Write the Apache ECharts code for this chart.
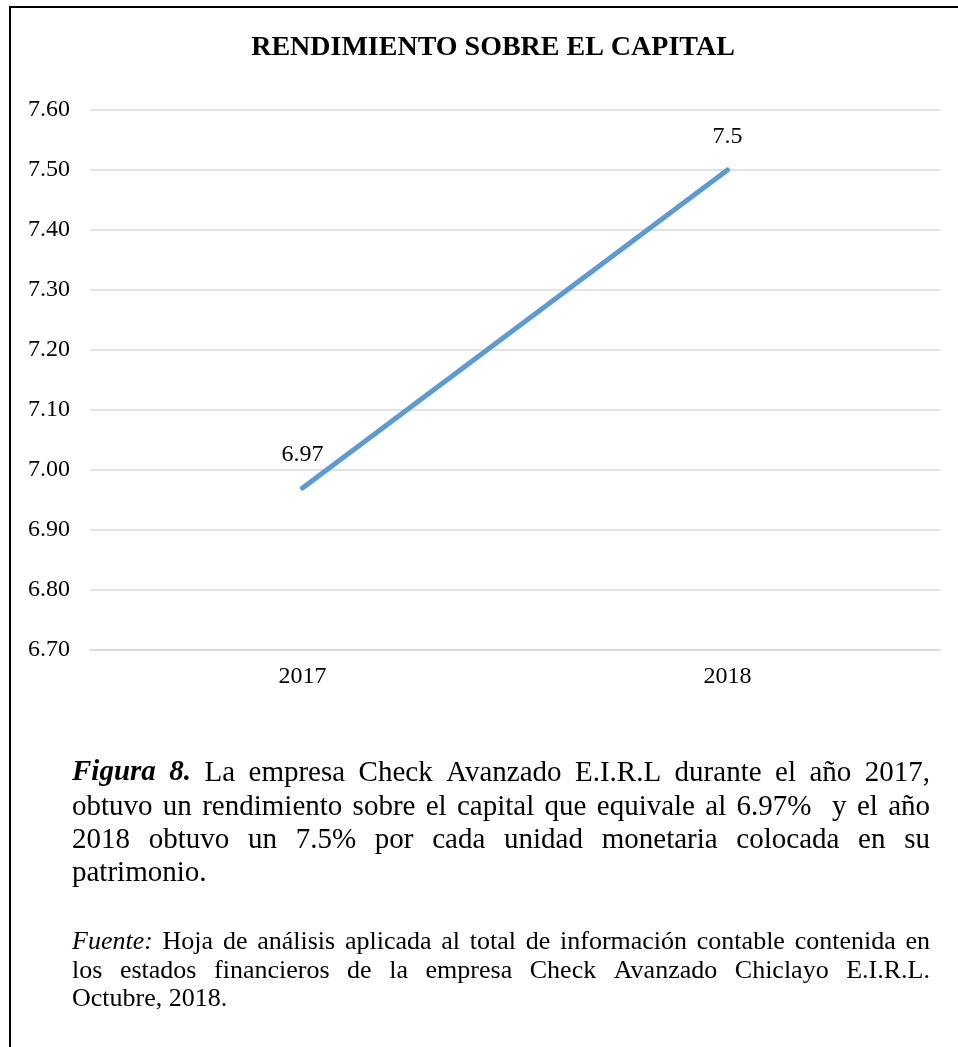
<!DOCTYPE html>
<html>
<head>
<meta charset="utf-8">
<script src="https://cdn.jsdelivr.net/npm/echarts@6/dist/echarts.min.js"></script>
<style>
html,body{margin:0;padding:0;background:#fff;}
#chart{width:958px;height:1047px;}
</style>
</head>
<body>
<div id="chart"></div>
<script>
// ---- data ----
var categories = ['2017', '2018'];
var seriesName = 'Rendimiento sobre el capital';
var values = [6.97, 7.5];
var dataLabels = ['6.97', '7.5'];
var yTicks = ['6.70','6.80','6.90','7.00','7.10','7.20','7.30','7.40','7.50','7.60'];
var titleText = 'RENDIMIENTO SOBRE EL CAPITAL';
var captionLines = [
  [['b','Figura 8.'],['n','La empresa Check Avanzado E.I.R.L durante el año 2017,']],
  [['n','obtuvo un rendimiento sobre el capital que equivale al 6.97%  y el año']],
  [['n','2018 obtuvo un 7.5% por cada unidad monetaria colocada en su']],
  [['n','patrimonio.']]
];
var sourceLines = [
  [['i','Fuente:'],['n','Hoja de análisis aplicada al total de información contable contenida en']],
  [['n','los estados financieros de la empresa Check Avanzado Chiclayo E.I.R.L.']],
  [['n','Octubre, 2018.']]
];

var FONT = '"Liberation Serif", "Times New Roman", serif';
var canvas = document.createElement('canvas');
var ctx = canvas.getContext('2d');
function measure(word, style, size) {
  var f = '';
  if (style === 'b') f = 'italic bold ';
  if (style === 'i') f = 'italic ';
  ctx.font = f + size + 'px ' + FONT;
  return ctx.measureText(word).width;
}
// build a justified rich-text line (each space char is stretched equally, as in Word)
function buildLine(parts, size, width, justify, key) {
  var words = [];   // [style, word, spacesBefore]
  var pending = 0;
  parts.forEach(function (p, pi) {
    if (pi > 0) pending += 1;
    p[1].split(' ').forEach(function (w, wi) {
      if (wi > 0) pending += 1;
      if (w) { words.push([p[0], w, words.length ? pending : 0]); pending = 0; }
    });
  });
  var total = 0, units = 0;
  words.forEach(function (w) { total += measure(w[1], w[0], size); units += w[2]; });
  var gap = justify && units > 0 ? (width - total) / units : measure(' ', 'n', size);
  var rich = {
    n: { fontFamily: FONT, fontSize: size, color: '#000' },
    b: { fontFamily: FONT, fontSize: size, color: '#000', fontStyle: 'italic', fontWeight: 'bold' },
    i: { fontFamily: FONT, fontSize: size, color: '#000', fontStyle: 'italic' }
  };
  var txt = '';
  words.forEach(function (w) {
    if (w[2] > 0) {
      var gname = 'g' + key + '_' + w[2];
      rich[gname] = { fontFamily: FONT, fontSize: size, width: gap * w[2] };
      txt += '{' + gname + '|' + new Array(w[2] + 1).join(' ') + '}';
    }
    txt += '{' + w[0] + '|' + w[1] + '}';
  });
  return { text: txt, rich: rich };
}

var graphics = [
  { type: 'line', shape: { x1: 10, y1: 7, x2: 958, y2: 7 }, style: { stroke: '#000', lineWidth: 2 } },
  { type: 'line', shape: { x1: 10, y1: 6, x2: 10, y2: 1047 }, style: { stroke: '#000', lineWidth: 2 } }
];
var capLeft = 72, capWidth = 858;
var capY = [773, 807, 840, 873];
captionLines.forEach(function (ln, i) {
  var r = buildLine(ln, 29, capWidth, i < captionLines.length - 1, 'c' + i);
  graphics.push({ type: 'text', x: capLeft, y: capY[i],
    style: { text: r.text, rich: r.rich, fontFamily: FONT, fontSize: 29, fill: '#000', verticalAlign: 'middle' } });
});
var srcY = [942, 971, 999];
sourceLines.forEach(function (ln, i) {
  var r = buildLine(ln, 26, capWidth, i < sourceLines.length - 1, 's' + i);
  graphics.push({ type: 'text', x: capLeft, y: srcY[i],
    style: { text: r.text, rich: r.rich, fontFamily: FONT, fontSize: 26, fill: '#000', verticalAlign: 'middle' } });
});

var chart = echarts.init(document.getElementById('chart'), null, { renderer: 'canvas' });
chart.setOption({
  animation: false,
  backgroundColor: '#fff',
  title: {
    text: titleText,
    left: 488, top: 29, textAlign: 'center',
    textStyle: { fontFamily: FONT, fontSize: 28, fontWeight: 'bold', color: '#000' }
  },
  grid: { left: 90, right: 18, top: 110, bottom: 397, containLabel: false },
  xAxis: {
    type: 'category', data: categories, boundaryGap: true,
    axisLine: { show: true, lineStyle: { color: '#D9D9D9', width: 1.5 } },
    axisTick: { show: false },
    axisLabel: { fontFamily: FONT, fontSize: 24, color: '#000', margin: 15 }
  },
  yAxis: {
    type: 'value', min: 6.7, max: 7.6, interval: 0.1,
    axisLine: { show: false }, axisTick: { show: false },
    splitLine: { lineStyle: { color: '#D9D9D9', width: 1.5 } },
    axisLabel: {
      fontFamily: FONT, fontSize: 24, color: '#000', margin: 20,
      formatter: function (v) {
        var idx = Math.round((v - 6.7) / 0.1);
        return yTicks[idx] !== undefined ? yTicks[idx] : v.toFixed(2);
      }
    }
  },
  series: [{
    name: seriesName, type: 'line', data: values,
    showSymbol: true, symbol: 'circle', symbolSize: 3,
    itemStyle: { color: '#5B9BD5' },
    lineStyle: { color: '#5B9BD5', width: 5, cap: 'round' },
    label: {
      show: true, position: 'top', distance: 20,
      fontFamily: FONT, fontSize: 24, color: '#000',
      formatter: function (p) { return dataLabels[p.dataIndex]; }
    }
  }],
  graphic: graphics
});
</script>
</body>
</html>
